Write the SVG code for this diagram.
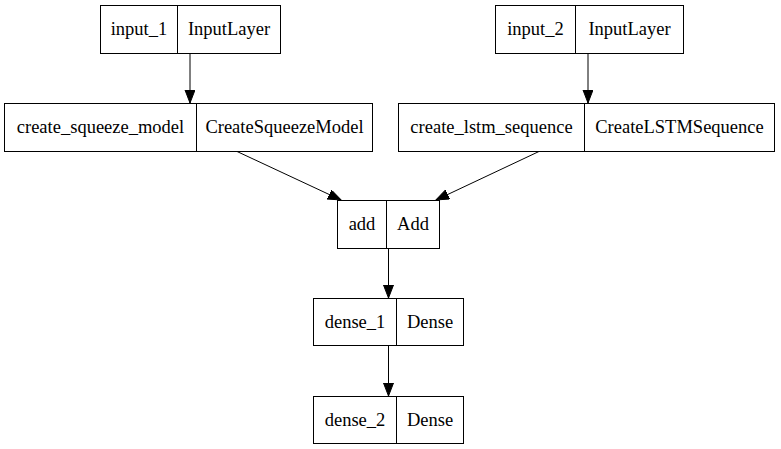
<svg xmlns="http://www.w3.org/2000/svg" width="781" height="449" viewBox="0 0 781 449">
<style>
.box{fill:#fff;stroke:#000;stroke-width:1}
text{font-family:"Liberation Serif","Times New Roman",serif;font-size:18.5px;fill:#000;text-anchor:middle}
.e{stroke:#000;stroke-width:1;fill:none;marker-end:url(#ah)}
</style>
<defs>
<marker id="ah" markerWidth="14" markerHeight="12" refX="13" refY="5" orient="auto" markerUnits="userSpaceOnUse">
<path d="M0,0 L13,5 L0,10 Z" fill="#000" stroke="#000" stroke-width="1"/>
</marker>
</defs>
<rect width="781" height="449" fill="#fff"/>
<g id="connectors">
<line class="e" x1="190" y1="53" x2="190" y2="103"/>
<line class="e" x1="588" y1="53" x2="588" y2="103"/>
<line class="e" x1="236" y1="151" x2="341" y2="200"/>
<line class="e" x1="540" y1="151" x2="436" y2="200"/>
<line class="e" x1="388.5" y1="248" x2="388.5" y2="298"/>
<line class="e" x1="388.5" y1="345" x2="388.5" y2="396"/>
</g>
<g id="input_1" font-family="Liberation Serif, serif">
<rect class="box" x="100.5" y="5.5" width="180" height="48"/>
<line x1="177.5" y1="5.5" x2="177.5" y2="53.5" stroke="#000"/>
<text x="139" y="35">input_1</text>
<text x="229" y="35">InputLayer</text>
</g>
<g id="input_2" font-family="Liberation Serif, serif">
<rect class="box" x="495.5" y="5.5" width="188" height="48"/>
<line x1="575.5" y1="5.5" x2="575.5" y2="53.5" stroke="#000"/>
<text x="535.5" y="35">input_2</text>
<text x="629.5" y="35">InputLayer</text>
</g>
<g id="create_squeeze_model" font-family="Liberation Serif, serif">
<rect class="box" x="4.5" y="103.5" width="368" height="48"/>
<line x1="196.5" y1="103.5" x2="196.5" y2="151.5" stroke="#000"/>
<text x="100.5" y="133">create_squeeze_model</text>
<text x="284.5" y="133">CreateSqueezeModel</text>
</g>
<g id="create_lstm_sequence" font-family="Liberation Serif, serif">
<rect class="box" x="398.5" y="103.5" width="376" height="48"/>
<line x1="584.5" y1="103.5" x2="584.5" y2="151.5" stroke="#000"/>
<text x="491.5" y="133">create_lstm_sequence</text>
<text x="679.5" y="133">CreateLSTMSequence</text>
</g>
<g id="add" font-family="Liberation Serif, serif">
<rect class="box" x="337.5" y="200.5" width="102" height="48"/>
<line x1="386.5" y1="200.5" x2="386.5" y2="248.5" stroke="#000"/>
<text x="362" y="230">add</text>
<text x="413" y="230">Add</text>
</g>
<g id="dense_1" font-family="Liberation Serif, serif">
<rect class="box" x="313.5" y="298.5" width="150" height="47"/>
<line x1="396.5" y1="298.5" x2="396.5" y2="345.5" stroke="#000"/>
<text x="355" y="328">dense_1</text>
<text x="430" y="328">Dense</text>
</g>
<g id="dense_2" font-family="Liberation Serif, serif">
<rect class="box" x="313.5" y="396.5" width="150" height="47"/>
<line x1="396.5" y1="396.5" x2="396.5" y2="443.5" stroke="#000"/>
<text x="355" y="426">dense_2</text>
<text x="430" y="426">Dense</text>
</g>
</svg>
